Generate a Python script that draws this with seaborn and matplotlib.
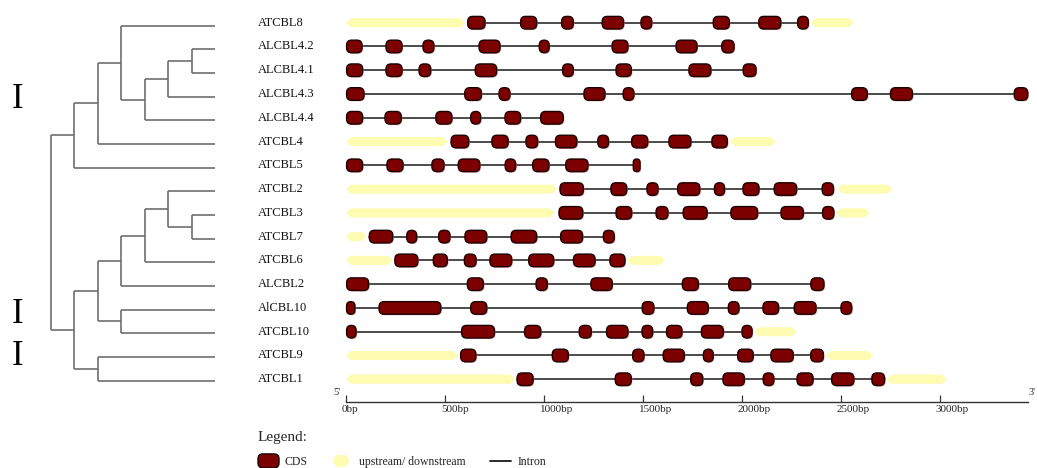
import matplotlib
matplotlib.use("Agg")
import numpy as np
import pandas as pd
import matplotlib.pyplot as plt
import seaborn as sns
from matplotlib.patches import FancyBboxPatch, Polygon
from matplotlib.lines import Line2D
from matplotlib.legend_handler import HandlerPatch
import matplotlib.patheffects as pe
import matplotlib.transforms as mtransforms

# ---------------- data ----------------
genes = ["ATCBL8", "ALCBL4.2", "ALCBL4.1", "ALCBL4.3", "ALCBL4.4", "ATCBL4", "ATCBL5",
         "ATCBL2", "ATCBL3", "ATCBL7", "ATCBL6", "ALCBL2", "AlCBL10", "ATCBL10",
         "ATCBL9", "ATCBL1"]

# CDS (exon) spans in bp
cds_ATCBL8 = [(615, 702), (882, 963), (1089, 1148), (1294, 1402), (1490, 1544), (1855, 1936), (2085, 2196), (2281, 2335)]
cds_ALCBL4_2 = [(3, 81), (202, 283), (389, 444), (672, 778), (976, 1026), (1344, 1424), (1667, 1773), (1898, 1960)]
cds_ALCBL4_1 = [(3, 84), (202, 283), (369, 428), (653, 761), (1094, 1148), (1364, 1441), (1732, 1843), (2006, 2071)]
cds_ALCBL4_3 = [(3, 91), (600, 684), (773, 828), (1202, 1308), (1400, 1454), (2554, 2633), (2750, 2861), (3375, 3443)]
cds_ALCBL4_4 = [(3, 84), (197, 279), (454, 535), (630, 680), (803, 882), (983, 1097)]
cds_ATCBL4 = [(531, 620), (737, 819), (909, 968), (1058, 1166), (1272, 1326), (1443, 1524), (1631, 1742), (1848, 1926)]
cds_ATCBL5 = [(3, 84), (207, 288), (434, 495), (567, 676), (804, 857), (943, 1025), (1110, 1222), (1451, 1485)]
cds_ATCBL2 = [(1081, 1199), (1338, 1418), (1520, 1576), (1675, 1787), (1861, 1912), (2005, 2086), (2163, 2276), (2405, 2462)]
cds_ATCBL3 = [(1076, 1196), (1364, 1443), (1566, 1626), (1703, 1824), (1944, 2079), (2197, 2310), (2407, 2464)]
cds_ATCBL7 = [(118, 236), (307, 357), (468, 525), (601, 711), (834, 963), (1084, 1195), (1300, 1355)]
cds_ATCBL6 = [(247, 363), (441, 512), (598, 657), (727, 837), (923, 1049), (1149, 1258), (1333, 1409)]
cds_ALCBL2 = [(3, 114), (613, 694), (960, 1017), (1237, 1345), (1699, 1780), (1933, 2044), (2348, 2414)]
cds_AlCBL10 = [(3, 45), (167, 479), (630, 711), (1496, 1555), (1724, 1830), (1931, 1985), (2106, 2185), (2264, 2374), (2500, 2554)]
cds_ATCBL10 = [(3, 51), (584, 750), (902, 984), (1178, 1239), (1316, 1424), (1495, 1549), (1619, 1697), (1795, 1906), (2000, 2051)]
cds_ATCBL9 = [(579, 656), (1042, 1123), (1448, 1505), (1602, 1709), (1805, 1855), (1978, 2057), (2146, 2259), (2347, 2411)]
cds_ATCBL1 = [(864, 945), (1360, 1441), (1741, 1802), (1904, 2012), (2107, 2161), (2278, 2359), (2453, 2565), (2656, 2720)]

# upstream / downstream spans in bp
utr_ATCBL8 = [(0, 600), (2347, 2566)]
utr_ATCBL4 = [(0, 516), (1939, 2170)]
utr_ATCBL2 = [(0, 1066), (2481, 2760)]
utr_ATCBL3 = [(0, 1055), (2474, 2646)]
utr_ATCBL7 = [(0, 104)]
utr_ATCBL6 = [(0, 236), (1421, 1611)]
utr_ATCBL10 = [(2061, 2277)]
utr_ATCBL9 = [(0, 567), (2423, 2663)]
utr_ATCBL1 = [(0, 854), (2730, 3034)]

gene_cds = [cds_ATCBL8, cds_ALCBL4_2, cds_ALCBL4_1, cds_ALCBL4_3, cds_ALCBL4_4, cds_ATCBL4,
            cds_ATCBL5, cds_ATCBL2, cds_ATCBL3, cds_ATCBL7, cds_ATCBL6, cds_ALCBL2,
            cds_AlCBL10, cds_ATCBL10, cds_ATCBL9, cds_ATCBL1]
gene_utr = [utr_ATCBL8, [], [], [], [], utr_ATCBL4, [], utr_ATCBL2, utr_ATCBL3, utr_ATCBL7,
            utr_ATCBL6, [], [], utr_ATCBL10, utr_ATCBL9, utr_ATCBL1]

# tree topology (leaf indices into genes)
tree = (((((0, (((1, 2), 3), 4)), 5), 6)),
        ((((((7, (8, 9)), 10), 11), (12, 13))), (14, 15)))
tree_leaf_depth = 7

scale_ticks = [0, 500, 1000, 1500, 2000, 2500, 3000]
scale_labels = ["0bp", "500bp", "1000bp", "1500bp", "2000bp", "2500bp", "3000bp"]
scale_end = 3444

clade_marks = ["I", "I", "I"]

# ---------------- style ----------------
sns.set_theme(style="white")
plt.rcParams['font.family'] = ['Liberation Serif', 'DejaVu Serif']

CDS_FACE = "#7d0000"
CDS_EDGE = "#1c0000"
UTR_FACE = "#fdfcb0"
INTRON_C = "#1a1a1a"
TREE_C = "#6e6e6e"

W, H = 1037, 468
fig = plt.figure(figsize=(W / 100, H / 100), dpi=100)

PX_PER_BP = 0.198
X0_PX = 346.0
ROW0_PX = 22.7
ROW_PX = 23.77
AX_LEFT_PX = 250.0

# ---------------- tree ----------------
tax = fig.add_axes([0, 0, 258 / W, 1])
T0_PX, TSTEP_PX = 50.7, 23.47
L0_PX, LSTEP_PX = 25.7, 23.66
tax.set_xlim(-T0_PX / TSTEP_PX, (258 - T0_PX) / TSTEP_PX)
tax.set_ylim((H - L0_PX) / LSTEP_PX, -L0_PX / LSTEP_PX)
tax.axis('off')


def draw_node(node, depth):
    if isinstance(node, int):
        return tree_leaf_depth, float(node)
    pts = [draw_node(ch, depth + 1) for ch in node]
    ys = [p[1] for p in pts]
    for cx, cy in pts:
        tax.plot([depth, cx], [cy, cy], color=TREE_C, lw=1.2, solid_capstyle='butt')
    tax.plot([depth, depth], [min(ys), max(ys)], color=TREE_C, lw=1.2, solid_capstyle='butt')
    return depth, (min(ys) + max(ys)) / 2


draw_node(tree, 0)

mark_x = (18 - T0_PX) / TSTEP_PX
for txt, ypx in zip(clade_marks, [99, 314, 356]):
    tax.text(mark_x, (ypx - L0_PX) / LSTEP_PX, txt, fontsize=25, ha='center', va='center',
             color='black')

# ---------------- gene structures ----------------
ax = fig.add_axes([AX_LEFT_PX / W, 0, (W - AX_LEFT_PX) / W, 1])

intron_rows = []
for i, (g, cds) in enumerate(zip(genes, gene_cds)):
    intron_rows.append({"gene": g, "bp": cds[0][0], "row": i})
    intron_rows.append({"gene": g, "bp": cds[-1][1], "row": i})
intron_df = pd.DataFrame(intron_rows)
sns.lineplot(data=intron_df, x="bp", y="row", units="gene", estimator=None, sort=False,
             color=INTRON_C, linewidth=1.1, ax=ax, legend=False, zorder=1)

m_aspect = PX_PER_BP / ROW_PX
cds_h = 0.53
utr_h = 0.38
tip = 25
shadow = [pe.SimplePatchShadow(offset=(0.8, -0.8), shadow_rgbFace=(0.85, 0.55, 0.55), alpha=0.7),
          pe.Normal()]

for i, (cds, utr) in enumerate(zip(gene_cds, gene_utr)):
    for s, e in utr:
        hu = utr_h / 2
        poly = Polygon([(s, i), (s + tip, i - hu), (e - tip, i - hu), (e, i),
                        (e - tip, i + hu), (s + tip, i + hu)], closed=True,
                       facecolor=UTR_FACE, edgecolor='none', zorder=2)
        ax.add_patch(poly)
    for s, e in cds:
        w = e - s
        r = min(25, w / 2)
        p = FancyBboxPatch((s, i - cds_h / 2), w, cds_h,
                           boxstyle=f"round,pad=0,rounding_size={r}",
                           mutation_aspect=m_aspect, facecolor=CDS_FACE,
                           edgecolor=CDS_EDGE, linewidth=1.0, zorder=3)
        p.set_path_effects(shadow)
        ax.add_patch(p)

label_x = (258 - X0_PX) / PX_PER_BP
for i, g in enumerate(genes):
    ax.text(label_x, i, g, fontsize=9, ha='left', va='center', color='#111111')

ax.set_xlim((AX_LEFT_PX - X0_PX) / PX_PER_BP, (W - X0_PX) / PX_PER_BP)
ax.set_ylim((H - ROW0_PX) / ROW_PX, -ROW0_PX / ROW_PX)
ax.axis('off')

# ---------------- scale bar ----------------
sax = fig.add_axes([AX_LEFT_PX / W, (H - 402) / H, (W - AX_LEFT_PX) / W, 0.001])
sax.set_xlim(ax.get_xlim())
sax.patch.set_alpha(0)
for side in ['top', 'left', 'right']:
    sax.spines[side].set_visible(False)
sax.spines['bottom'].set_bounds(0, scale_end)
sax.spines['bottom'].set_color('#333333')
sax.spines['bottom'].set_linewidth(1.0)
sax.set_yticks([])
sax.set_xticks(scale_ticks)
sax.set_xticklabels(scale_labels)
sax.tick_params(axis='x', direction='in', length=5, width=0.9, color='#333333',
                labelsize=8, pad=2, bottom=True)
off = mtransforms.ScaledTranslation(-3 / 72, 0, fig.dpi_scale_trans)
for lab in sax.get_xticklabels():
    lab.set_ha('left')
    lab.set_transform(lab.get_transform() + off)
sax.annotate("5'", xy=(0, 0), xycoords=('data', 'axes fraction'), xytext=(-4, 7),
             textcoords='offset points', ha='right', va='center', fontsize=7.5)
sax.annotate("3'", xy=(scale_end, 0), xycoords=('data', 'axes fraction'), xytext=(0.5, 7),
             textcoords='offset points', ha='left', va='center', fontsize=7.5)

# ---------------- legend ----------------
fig.text(258 / W, (H - 438) / H, "Legend:", fontsize=11, ha='left', va='center')


def cds_handle(legend, orig_handle, xdescent, ydescent, width, height, fontsize):
    return FancyBboxPatch((-xdescent, -ydescent + height / 2 - 5), width, 10,
                          boxstyle="round,pad=0,rounding_size=3.5")


def utr_handle(legend, orig_handle, xdescent, ydescent, width, height, fontsize):
    x0 = -xdescent
    x1 = x0 + width * 0.83
    yc = -ydescent + height / 2
    t = 3.0
    return Polygon([(x0, yc), (x0 + t, yc - 4.3), (x1 - t, yc - 4.3), (x1, yc),
                    (x1 - t, yc + 4.3), (x0 + t, yc + 4.3)], closed=True)


h_cds = FancyBboxPatch((0, 0), 1, 1, facecolor=CDS_FACE, edgecolor=CDS_EDGE, linewidth=1.0)
h_utr = Polygon([(0, 0), (1, 0), (1, 1)], facecolor=UTR_FACE, edgecolor='none')
h_int = Line2D([], [], color=INTRON_C, lw=1.3)
fig.legend([h_cds, h_utr, h_int], ["CDS", "upstream/ downstream", "Intron"],
           handler_map={h_cds: HandlerPatch(patch_func=cds_handle),
                        h_utr: HandlerPatch(patch_func=utr_handle)},
           loc='center left', bbox_to_anchor=(258 / W, 6 / H), ncol=3, frameon=False,
           fontsize=8.5, handlelength=1.78, handletextpad=0.5, columnspacing=2.07,
           borderaxespad=0, borderpad=0)

fig.savefig("out.png", dpi=100)
